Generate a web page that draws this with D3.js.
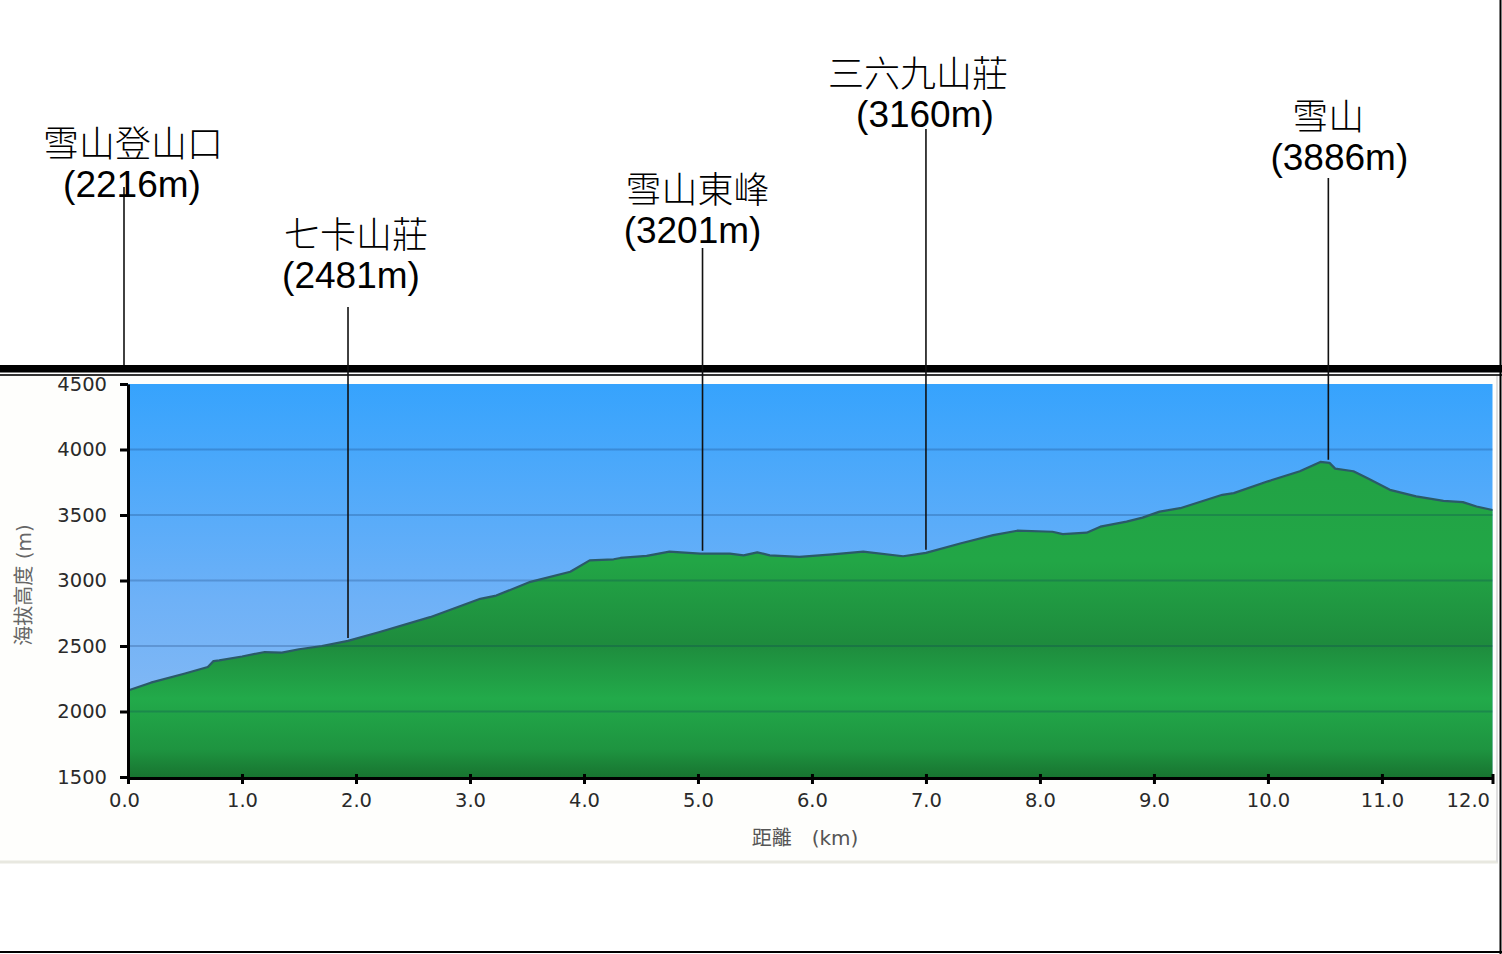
<!DOCTYPE html>
<html>
<head>
<meta charset="utf-8">
<script src="https://cdn.jsdelivr.net/npm/d3@7"></script>
<style>
  body { margin: 0; background: #fff; }
  svg { display: block; }
</style>
</head>
<body>
<div id="chart"></div>
<script>
// elevation profile (km, m)
var distKm = [0, 0.2, 0.5, 0.7, 0.75, 0.8, 1.0, 1.2, 1.35, 1.5, 1.7, 1.93, 2.2, 2.65, 3.09, 3.23, 3.53, 3.88,
  4.05, 4.26, 4.32, 4.55, 4.75, 5.02, 5.28, 5.4, 5.52, 5.63, 5.89, 6.18, 6.45, 6.8, 7.0, 7.3, 7.59, 7.8,
  8.11, 8.2, 8.41, 8.53, 8.76, 8.9, 9.05, 9.23, 9.6, 9.7, 10.0, 10.28, 10.46, 10.54, 10.59, 10.75, 10.87,
  11.07, 11.3, 11.54, 11.71, 11.83, 11.97];
var elevM = [2160, 2220, 2290, 2340, 2385, 2390, 2420, 2454, 2450, 2475, 2500, 2539, 2605, 2720, 2860, 2885, 2990, 3067,
  3154, 3162, 3172, 3188, 3220, 3205, 3205, 3192, 3215, 3192, 3180, 3200, 3220, 3185, 3211, 3282, 3346, 3380,
  3372, 3354, 3365, 3411, 3449, 3480, 3526, 3552, 3654, 3667, 3757, 3834, 3905, 3898, 3854, 3834, 3782,
  3692, 3642, 3608, 3598, 3565, 3538];

// waypoints
var wpNames = ["雪山登山口", "七卡山莊", "雪山東峰", "三六九山莊", "雪山"];
var wpElev = [2216, 2481, 3201, 3160, 3886];
var wpKm = [0, 1.93, 5.04, 7.0, 10.53];

// axes
var xTicks = [0, 1, 2, 3, 4, 5, 6, 7, 8, 9, 10, 11, 12];
var yTicks = [1500, 2000, 2500, 3000, 3500, 4000, 4500];
var xTitle = "距離　(km)";
var yTitle = "海拔高度 (m)";

var W = 1502, H = 954;
var svg = d3.select("#chart").append("svg")
  .attr("width", W).attr("height", H)
  .attr("viewBox", "0 0 " + W + " " + H);

var x = d3.scaleLinear().domain([0, 11.97]).range([128, 1492.5]).clamp(true);
var y = d3.scaleLinear().domain([1500, 4500]).range([777, 384]);

var profile = distKm.map(function(d, i) { return { km: d, m: elevM[i] }; });

var defs = svg.append("defs");
var sky = defs.append("linearGradient").attr("id", "sky")
  .attr("gradientUnits", "userSpaceOnUse")
  .attr("x1", 0).attr("x2", 0).attr("y1", y(4500)).attr("y2", y(1500));
sky.append("stop").attr("offset", "0%").attr("stop-color", "#36a3fd");
sky.append("stop").attr("offset", "55%").attr("stop-color", "#6eb1f7");
sky.append("stop").attr("offset", "100%").attr("stop-color", "#8fbdf3");

var grass = defs.append("linearGradient").attr("id", "grass")
  .attr("gradientUnits", "userSpaceOnUse")
  .attr("x1", 0).attr("x2", 0).attr("y1", y(4500)).attr("y2", y(1500));
grass.append("stop").attr("offset", "0%").attr("stop-color", "#229f44");
grass.append("stop").attr("offset", "45%").attr("stop-color", "#22a646");
grass.append("stop").attr("offset", "66%").attr("stop-color", "#1e8b3d");
grass.append("stop").attr("offset", "80%").attr("stop-color", "#22aa4a");
grass.append("stop").attr("offset", "93%").attr("stop-color", "#1e9440");
grass.append("stop").attr("offset", "100%").attr("stop-color", "#187430");

// faint panel + separator below the chart
svg.append("rect").attr("x", 0).attr("y", 376).attr("width", 1498).attr("height", 485)
  .style("fill", "#fefefc");
svg.append("line").attr("x1", 0).attr("x2", 1498).attr("y1", 862).attr("y2", 862)
  .style("stroke", "#e8e8e0").style("stroke-width", 3);
svg.append("line").attr("x1", 1497).attr("x2", 1497).attr("y1", 376).attr("y2", 862)
  .style("stroke", "#e0e0e0").style("stroke-width", 2);

// plot background
svg.append("rect")
  .attr("x", x(0)).attr("y", y(4500))
  .attr("width", x(11.97) - x(0)).attr("height", y(1500) - y(4500))
  .style("fill", "url(#sky)");

svg.append("path")
  .datum(profile)
  .attr("d", d3.area()
    .x(function(d) { return x(d.km); })
    .y0(y(1500))
    .y1(function(d) { return y(d.m); }))
  .style("fill", "url(#grass)");

// grid
svg.append("g").selectAll("line")
  .data(yTicks.slice(1, -1))
  .enter().append("line")
  .attr("x1", x(0)).attr("x2", x(11.97))
  .attr("y1", function(d) { return y(d); }).attr("y2", function(d) { return y(d); })
  .style("stroke", "rgba(10,40,90,0.22)").style("stroke-width", 2);

svg.append("path")
  .datum(profile)
  .attr("d", d3.line()
    .x(function(d) { return x(d.km); })
    .y(function(d) { return y(d.m); }))
  .style("fill", "none").style("stroke", "#2b5a68").style("stroke-width", 2.2)
  .style("stroke-linejoin", "round");

// axes
var yAxis = svg.append("g")
  .attr("transform", "translate(" + x(0) + ",0)")
  .call(d3.axisLeft(y).tickValues(yTicks).tickFormat(d3.format("d")).tickSize(8).tickSizeOuter(0).tickPadding(13));
var xAxis = svg.append("g")
  .attr("transform", "translate(0," + (y(1500) + 1) + ")")
  .call(d3.axisBottom(x).tickValues(xTicks).tickFormat(d3.format(".1f")).tickSize(6).tickSizeOuter(0).tickPadding(9));

[yAxis, xAxis].forEach(function(g) {
  g.select(".domain").style("stroke", "#000").style("stroke-width", 3);
  g.selectAll(".tick line").style("stroke", "#000").style("stroke-width", 3);
  g.selectAll(".tick text")
    .style("font-family", "'DejaVu Sans', Verdana, sans-serif")
    .style("font-size", "19.5px")
    .style("fill", "#2a2a2a");
});
xAxis.selectAll(".tick line").attr("y1", -4);
xAxis.selectAll(".tick text").filter(function(d) { return d === 0; }).attr("dx", -4);
xAxis.selectAll(".tick text").filter(function(d) { return d === 12; })
  .attr("text-anchor", "end").attr("dx", -3);

svg.append("text")
  .attr("x", 805).attr("y", 845)
  .attr("text-anchor", "middle")
  .style("font-family", "'DejaVu Sans', 'Noto Sans CJK TC', sans-serif")
  .style("font-size", "20px").style("fill", "#555")
  .text(xTitle);

svg.append("text")
  .attr("transform", "translate(31,585) rotate(-90)")
  .attr("text-anchor", "middle")
  .style("font-family", "'DejaVu Sans', 'Noto Sans CJK TC', sans-serif")
  .style("font-size", "20px").style("fill", "#666")
  .text(yTitle);

// separator bar between labels and chart
svg.append("rect").attr("x", 0).attr("y", 365).attr("width", W).attr("height", 7.5).style("fill", "#000");
svg.append("line").attr("x1", 0).attr("x2", W).attr("y1", 375).attr("y2", 375)
  .style("stroke", "#333").style("stroke-width", 2);

// callouts
var valueBase = [197, 288, 243, 127, 170];
var lineTop = [187, 307, 248, 129, 178];
var nameDx = [5, 8, -5, -8, 0];
var valueDx = [4, 3, -10, -1, 11];

function profileAt(km) {
  var i = d3.bisectLeft(distKm, km);
  if (i <= 0) return elevM[0];
  var t = (km - distKm[i - 1]) / (distKm[i] - distKm[i - 1]);
  return elevM[i - 1] + t * (elevM[i] - elevM[i - 1]);
}

wpNames.forEach(function(name, i) {
  var cx = x(wpKm[i]);
  var lx = wpKm[i] === 0 ? cx - 4 : cx;
  var bottom = wpKm[i] === 0 ? 365 : y(profileAt(wpKm[i])) - 3;
  svg.append("line")
    .attr("x1", lx).attr("x2", lx)
    .attr("y1", lineTop[i]).attr("y2", bottom)
    .style("stroke", "#111").style("stroke-width", 1.6);
  svg.append("text")
    .attr("x", cx + nameDx[i]).attr("y", valueBase[i] - 40)
    .attr("text-anchor", "middle")
    .style("font-family", "'Noto Sans CJK TC', sans-serif")
    .style("font-weight", 300)
    .style("font-size", "36px").style("fill", "#000")
    .text(name);
  svg.append("text")
    .attr("x", cx + valueDx[i]).attr("y", valueBase[i])
    .attr("text-anchor", "middle")
    .style("font-family", "'Liberation Sans', Arial, sans-serif")
    .style("font-size", "37px").style("fill", "#000")
    .text("(" + wpElev[i] + "m)");
});

// outer frame (right and bottom edges)
svg.append("line").attr("x1", 1500.5).attr("x2", 1500.5).attr("y1", 0).attr("y2", H)
  .style("stroke", "#000").style("stroke-width", 2);
svg.append("line").attr("x1", 0).attr("x2", W).attr("y1", 952).attr("y2", 952)
  .style("stroke", "#000").style("stroke-width", 2);
</script>
</body>
</html>
